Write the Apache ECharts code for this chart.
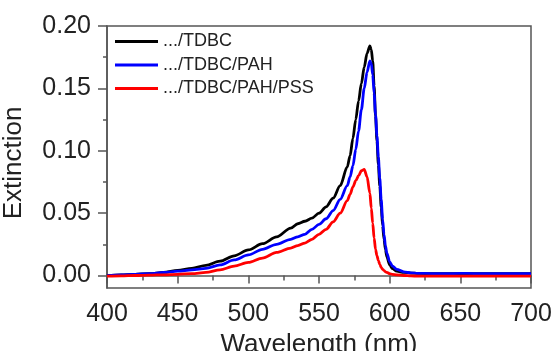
<!DOCTYPE html>
<html><head><meta charset="utf-8">
<script src="https://cdn.jsdelivr.net/npm/echarts@6/dist/echarts.min.js"></script>
<style>html,body{margin:0;padding:0;background:#fff}#c{width:556px;height:351px}</style>
</head><body><div id="c"></div>
<script>
const seriesNames = ['.../TDBC', '.../TDBC/PAH', '.../TDBC/PAH/PSS'];
const wavelengths = [400,410,420,430,440,450,460,470,480,490,500,510,520,530,535,540,545,550,555,560,565,570,572,574,576,578,580,582,584,586,587,588,589,590,591,592,593,594,595,596,597,598,600,602,605,610,615,620,630,640,650,660,670,680,690,700];
const tdbc = [0.000,0.0005,0.001,0.0015,0.0025,0.0042,0.0058,0.0082,0.0115,0.0158,0.0205,0.0255,0.031,0.038,0.0415,0.0435,0.046,0.050,0.055,0.062,0.072,0.087,0.096,0.110,0.125,0.140,0.154,0.167,0.178,0.184,0.181,0.172,0.152,0.128,0.108,0.089,0.072,0.055,0.040,0.029,0.021,0.015,0.0085,0.0055,0.0035,0.0025,0.002,0.0017,0.0015,0.0015,0.0015,0.0015,0.0015,0.0015,0.0015,0.0015];
const tdbcPah = [0.000,0.0005,0.001,0.0015,0.0025,0.0035,0.0045,0.0058,0.0085,0.0125,0.0165,0.021,0.025,0.029,0.031,0.033,0.037,0.041,0.0455,0.052,0.061,0.072,0.079,0.088,0.101,0.116,0.133,0.150,0.163,0.172,0.170,0.161,0.146,0.129,0.112,0.095,0.078,0.061,0.045,0.033,0.024,0.018,0.011,0.0075,0.005,0.003,0.0022,0.0018,0.0016,0.0015,0.0017,0.0016,0.0015,0.0016,0.0015,0.0015];
const tdbcPahPss = [-0.0005,-0.0003,0.000,0.0003,0.0006,0.001,0.0015,0.0025,0.0045,0.0075,0.0105,0.014,0.0185,0.022,0.024,0.026,0.029,0.033,0.037,0.043,0.050,0.060,0.065,0.071,0.076,0.080,0.084,0.085,0.079,0.066,0.054,0.042,0.030,0.021,0.016,0.012,0.009,0.0065,0.005,0.004,0.003,0.0025,0.0015,0.001,0.0005,0.0,-0.0003,-0.0005,-0.0005,-0.0005,-0.0005,-0.0005,-0.0005,-0.0005,-0.0005,-0.0005];
const yTickValues = [0, 0.05, 0.10, 0.15, 0.20];
const yMinorTickValues = [0.025, 0.075, 0.125, 0.175];
const xTickValues = [400, 450, 500, 550, 600, 650, 700];

const colors = ['#000000', '#0000ff', '#ff0000'];
const valuesList = [tdbc, tdbcPah, tdbcPahPss];
const FONT = 'Liberation Sans, Arial, sans-serif';
const chart = echarts.init(document.getElementById('c'), null, {renderer: 'canvas'});
const axisCol = '#555';
chart.setOption({
  animation: false,
  backgroundColor: '#fff',
  grid: {left: 107, right: 25, top: 26, bottom: 63, show: true, borderColor: axisCol, borderWidth: 1.5,
    outerBoundsMode: 'none', containLabel: false},
  legend: {
    left: 115, top: 31.5, orient: 'vertical', padding: 0,
    itemWidth: 43, itemHeight: 3, itemGap: 3.5, icon: 'rect',
    textStyle: {fontFamily: FONT, fontSize: 18, color: '#222', lineHeight: 20},
    data: seriesNames
  },
  xAxis: {
    type: 'value', min: 400, max: 700, interval: 50,
    name: 'Wavelength (nm)', nameLocation: 'middle', nameGap: 41,
    nameTextStyle: {fontFamily: FONT, fontSize: 26, color: '#222'},
    axisLine: {show: true, lineStyle: {color: axisCol, width: 1.5}},
    axisTick: {show: true, length: 8, lineStyle: {color: axisCol, width: 1.5}},
    minorTick: {show: true, splitNumber: 2, length: 5, lineStyle: {color: axisCol, width: 1.5}},
    axisLabel: {fontFamily: FONT, fontSize: 25, color: '#222', margin: 14,
      customValues: xTickValues, formatter: v => String(v)},
    splitLine: {show: false}
  },
  yAxis: [{
    type: 'value', min: -0.01, max: 0.2,
    name: 'Extinction', nameLocation: 'middle', nameGap: 80,
    nameTextStyle: {fontFamily: FONT, fontSize: 26, color: '#222', padding: [0, 12, 0, 0]},
    axisLine: {show: true, onZero: false, lineStyle: {color: axisCol, width: 1.5}},
    axisTick: {show: true, length: 9, customValues: yTickValues, lineStyle: {color: axisCol, width: 1.5}},
    axisLabel: {fontFamily: FONT, fontSize: 25, color: '#222', margin: 16,
      customValues: yTickValues, formatter: v => v.toFixed(2)},
    splitLine: {show: false}
  }, {
    type: 'value', min: -0.01, max: 0.2, position: 'left',
    axisLine: {show: false},
    axisTick: {show: true, length: 4, customValues: yMinorTickValues, lineStyle: {color: axisCol, width: 1.5}},
    axisLabel: {show: false},
    splitLine: {show: false}
  }],
  series: seriesNames.map((name, i) => ({
    name: name, type: 'line', yAxisIndex: 0,
    data: wavelengths.map((w, j) => [w, valuesList[i][j]]),
    showSymbol: false, symbol: 'none',
    smooth: 0.3, smoothMonotone: 'x',
    lineStyle: {color: colors[i], width: 2.8},
    itemStyle: {color: colors[i]}
  }))
});
</script></body></html>
